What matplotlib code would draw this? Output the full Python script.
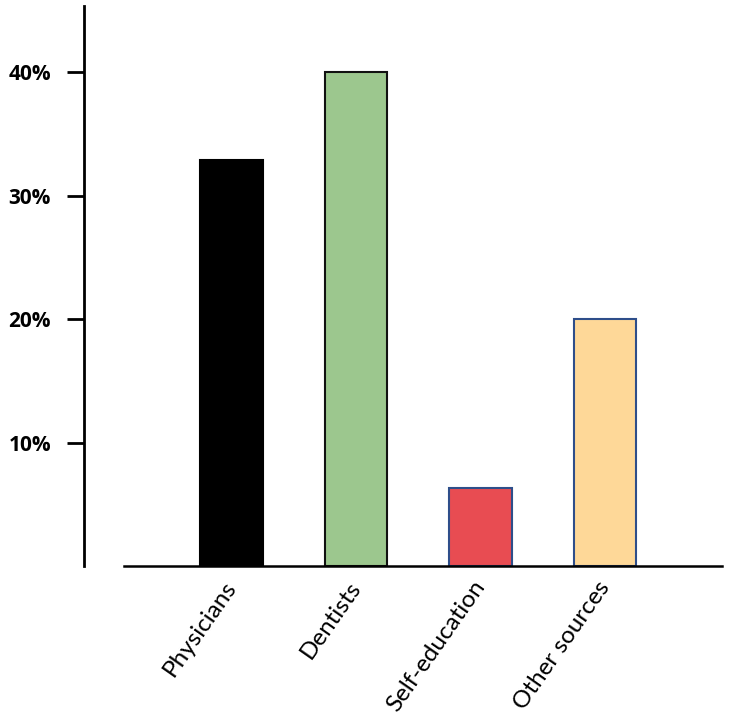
import matplotlib
matplotlib.use("Agg")
import matplotlib.pyplot as plt
import numpy as np

categories = ["Physicians", "Dentists", "Self-education", "Other sources"]
values = [32.9, 40.0, 6.3, 20.0]
colors = ["#000000", "#9CC78E", "#E84C52", "#FED898"]
edges = ["#000000", "#111111", "#2E4E8A", "#2E4E8A"]
yticks = [10, 20, 30, 40]
ytick_labels = ["10%", "20%", "30%", "40%"]

plt.rcParams['font.family'] = ['Lato', 'DejaVu Sans']

W, H = 756, 727
PT = 72 / 100  # points per pixel
fig = plt.figure(figsize=(W / 100, H / 100), dpi=100)
left, right = 84, 722
bottom_px, top_px = 566, 6
ax = fig.add_axes([left / W, 1 - bottom_px / H, (right - left) / W, (bottom_px - top_px) / H])

x = np.arange(len(categories))
ax.bar(x, values, width=0.5, color=colors, edgecolor=edges, linewidth=1.5, zorder=2)

ax.set_xlim(-1.185, 3.94)
ax.set_ylim(0, (bottom_px - top_px) / 123.5 * 10)

ax.spines['top'].set_visible(False)
ax.spines['right'].set_visible(False)
ax.spines['left'].set_linewidth(2)
ax.spines['bottom'].set_linewidth(1.8)
ax.spines['bottom'].set_bounds(-0.864, 3.94)

ax.set_yticks(yticks)
ax.set_yticklabels(ytick_labels, fontsize=15, fontweight='bold', family=['Open Sans', 'DejaVu Sans'])
ax.tick_params(axis='y', length=17 * PT, width=2, pad=16 * PT, direction='out')

ax.set_xticks(x)
ax.set_xticklabels(categories, rotation=55, ha='right', va='center', rotation_mode='anchor', fontsize=17.5)
ax.tick_params(axis='x', length=0, pad=17 * PT)

fig.savefig("out.png", dpi=100, facecolor='white')
